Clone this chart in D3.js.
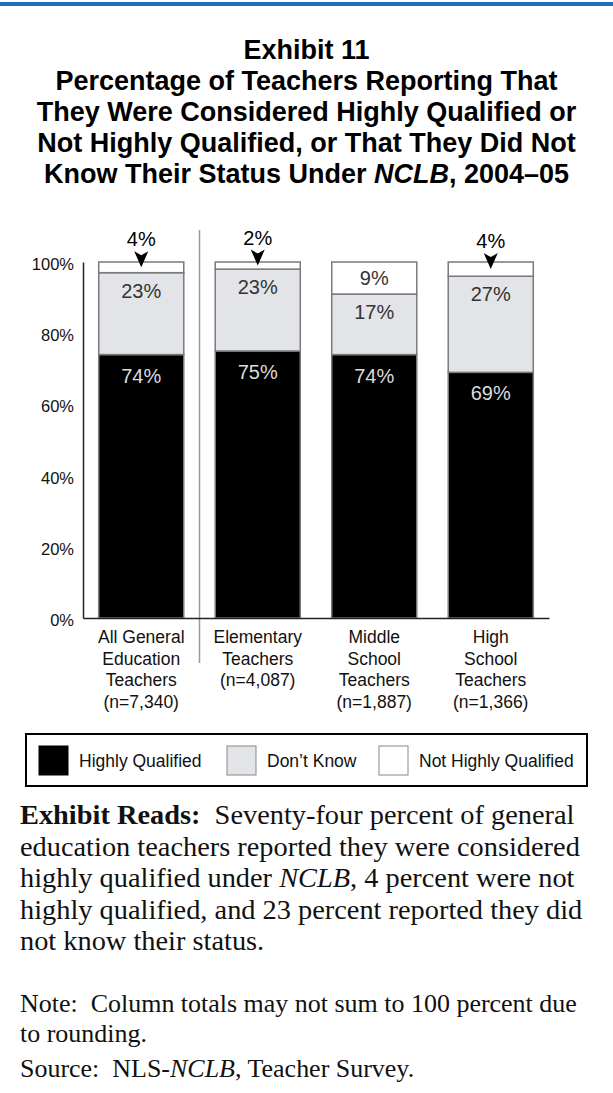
<!DOCTYPE html>
<html>
<head>
<meta charset="utf-8">
<script src="https://cdn.jsdelivr.net/npm/d3@7"></script>
<style>
  html, body { margin: 0; padding: 0; background: #fff; }
  svg { display: block; }
  text, tspan { white-space: pre; }
</style>
</head>
<body>
<svg id="chart" width="613" height="1093"></svg>
<script>
// Teacher groups (one stacked column each), split over several label lines
const categories = ["All", "Elementary", "Middle", "High"];
const categoryLabels = [
  ["All General", "Education", "Teachers", "(n=7,340)"],
  ["Elementary", "Teachers", "(n=4,087)"],
  ["Middle", "School", "Teachers", "(n=1,887)"],
  ["High", "School", "Teachers", "(n=1,366)"]
];
// Percent of teachers in each status
const highlyQualified    = [74, 75, 74, 69];
const dontKnow           = [23, 23, 17, 27];
const notHighlyQualified = [4, 2, 9, 4];
const yTicks = [0, 20, 40, 60, 80, 100];
const seriesNames = ["Highly Qualified", "Don\u2019t Know", "Not Highly Qualified"];

const svg = d3.select("#chart");
const SANS = "'Liberation Sans', Arial, Helvetica, sans-serif";
const SERIF = "'Liberation Serif', 'Times New Roman', serif";

// blue rule across the top
svg.append("rect").attr("x", 0).attr("y", 2).attr("width", 613).attr("height", 4).attr("fill", "#1b6fc0");

// fit helper: scale font so a text node spans the given width
function fitSize(sel, base, target) {
  const w = sel.node().getComputedTextLength();
  return base * target / w;
}

// ---- title ----
const titleLines = [
  [["Exhibit 11", false]],
  [["Percentage of Teachers Reporting That", false]],
  [["They Were Considered Highly Qualified or", false]],
  [["Not Highly Qualified, or That They Did Not", false]],
  [["Know Their Status Under ", false], ["NCLB", true], [", 2004\u201305", false]]
];
const titleG = svg.append("g").attr("font-family", SANS).attr("font-weight", "bold").attr("fill", "#000");
const titleTexts = titleLines.map((parts, i) => {
  const t = titleG.append("text").attr("x", 306.5).attr("y", 58.5 + i * 31)
    .attr("text-anchor", "middle").attr("font-size", 20);
  parts.forEach(([s, it]) => t.append("tspan").text(s).attr("font-style", it ? "italic" : null));
  return t;
});
const titleSize = fitSize(titleTexts[2], 20, 540);
titleTexts.forEach(t => t.attr("font-size", titleSize));

// ---- plot scales ----
const x = d3.scaleBand().domain(categories).range([83, 549]).paddingInner(0.27).paddingOuter(0.135);
const y = d3.scaleLinear().domain([0, 100]).range([618, 262]).clamp(true);

const rows = categories.map((c, i) => ({
  cat: c, hq: highlyQualified[i], dk: dontKnow[i], nhq: notHighlyQualified[i]
}));
const stack = d3.stack().keys(["hq", "dk", "nhq"]);
const layers = stack(rows);
const fills = { hq: "#000000", dk: "#e3e4e7", nhq: "#ffffff" };

// separator between the overall column and the school levels
const sepX = x(categories[1]) - x.step() * x.paddingInner() / 2;
svg.append("line").attr("x1", sepX).attr("x2", sepX).attr("y1", 230).attr("y2", 663)
  .attr("stroke", "#9a9a9a").attr("stroke-width", 1.5);

// stacked segments
layers.forEach(layer => {
  svg.append("g").selectAll("rect").data(layer).join("rect")
    .attr("x", d => x(d.data.cat))
    .attr("width", x.bandwidth())
    .attr("y", d => y(d[1]))
    .attr("height", d => y(d[0]) - y(d[1]))
    .attr("fill", fills[layer.key])
    .attr("stroke", "#7a7a7a")
    .attr("stroke-width", 1.5);
});

// y axis
const yAxis = svg.append("g").attr("transform", "translate(83,0)")
  .call(d3.axisLeft(y).tickValues(yTicks).tickFormat(d => d + "%").tickSize(0).tickSizeOuter(0).tickPadding(9));
yAxis.select(".domain").attr("stroke", "#222").attr("stroke-width", 1.5);
yAxis.selectAll("text").attr("font-family", SANS).attr("font-size", 16.5).attr("fill", "#111").attr("dy", "0.45em");

// baseline
const xAxis = svg.append("g").attr("transform", "translate(0,618)")
  .call(d3.axisBottom(x).tickSize(0).tickSizeOuter(0).tickFormat(""));
xAxis.select(".domain").attr("stroke", "#222").attr("stroke-width", 1.5);

// category labels
const catG = svg.append("g").attr("font-family", SANS).attr("font-size", 17.5).attr("fill", "#111").attr("text-anchor", "middle");
categories.forEach((c, i) => {
  categoryLabels[i].forEach((line, j) => {
    catG.append("text").attr("x", x(c) + x.bandwidth() / 2).attr("y", 643 + j * 21.5).text(line);
  });
});

// value labels
const valG = svg.append("g").attr("font-family", SANS).attr("font-size", 20).attr("text-anchor", "middle");
const [hqL, dkL, nhqL] = layers;
hqL.forEach(d => {
  valG.append("text").attr("x", x(d.data.cat) + x.bandwidth() / 2).attr("y", y(d[1]) + 28)
    .attr("fill", "#dcdcdc").text(d.data.hq + "%");
});
dkL.forEach(d => {
  valG.append("text").attr("x", x(d.data.cat) + x.bandwidth() / 2).attr("y", y(d[1]) + 25)
    .attr("fill", "#333").text(d.data.dk + "%");
});
nhqL.forEach(d => {
  const cx = x(d.data.cat) + x.bandwidth() / 2;
  const top = y(d[1]), bot = y(d[0]);
  if (bot - top > 24) {
    valG.append("text").attr("x", cx).attr("y", (top + bot) / 2 + 7).attr("fill", "#333").text(d.data.nhq + "%");
  } else {
    const tip = (top + bot) / 2;
    svg.append("path")
      .attr("d", `M${cx - 7},${tip - 16} L${cx},${tip - 12} L${cx + 7},${tip - 16} L${cx},${tip} Z`)
      .attr("fill", "#000");
    valG.append("text").attr("x", cx).attr("y", tip - 21).attr("fill", "#000").text(d.data.nhq + "%");
  }
});

// ---- legend ----
const legG = svg.append("g").attr("font-family", SANS).attr("font-size", 17.5).attr("fill", "#111");
legG.append("rect").attr("x", 26).attr("y", 734).attr("width", 561).attr("height", 52)
  .attr("fill", "#fff").attr("stroke", "#000").attr("stroke-width", 2);
const legX = [39, 227, 379];
const legKeys = ["hq", "dk", "nhq"];
seriesNames.forEach((name, i) => {
  legG.append("rect").attr("x", legX[i]).attr("y", 746).attr("width", 29).attr("height", 29)
    .attr("fill", fills[legKeys[i]]).attr("stroke", i === 0 ? "#000" : "#888").attr("stroke-width", 1);
  legG.append("text").attr("x", legX[i] + 40).attr("y", 767).text(name);
});

// ---- notes below the chart ----
function paragraph(lines, y0, lh, target, fitIndex) {
  const g = svg.append("g").attr("font-family", SERIF).attr("fill", "#111");
  const nodes = lines.map((parts, i) => {
    const t = g.append("text").attr("x", 20).attr("y", y0 + i * lh).attr("font-size", 20);
    parts.forEach(([s, st]) => {
      t.append("tspan").text(s)
        .attr("font-weight", st === "b" ? "bold" : null)
        .attr("font-style", st === "i" ? "italic" : null);
    });
    return t;
  });
  const size = fitSize(nodes[fitIndex], 20, target);
  nodes.forEach(t => t.attr("font-size", size));
  return size;
}
paragraph([
  [["Exhibit Reads:", "b"], ["  Seventy-four percent of general", ""]],
  [["education teachers reported they were considered", ""]],
  [["highly qualified under ", ""], ["NCLB", "i"], [", 4 percent were not", ""]],
  [["highly qualified, and 23 percent reported they did", ""]],
  [["not know their status.", ""]]
], 824, 31.5, 560, 1);
const noteSize = paragraph([
  [["Note:  Column totals may not sum to 100 percent due", ""]],
  [["to rounding.", ""]]
], 1012, 30, 557, 0);
const src = svg.append("text").attr("x", 20).attr("y", 1077).attr("font-family", SERIF).attr("fill", "#111");
src.append("tspan").text("Source:  NLS-");
src.append("tspan").text("NCLB").attr("font-style", "italic");
src.append("tspan").text(", Teacher Survey.");
src.attr("font-size", noteSize);
</script>
</body>
</html>
